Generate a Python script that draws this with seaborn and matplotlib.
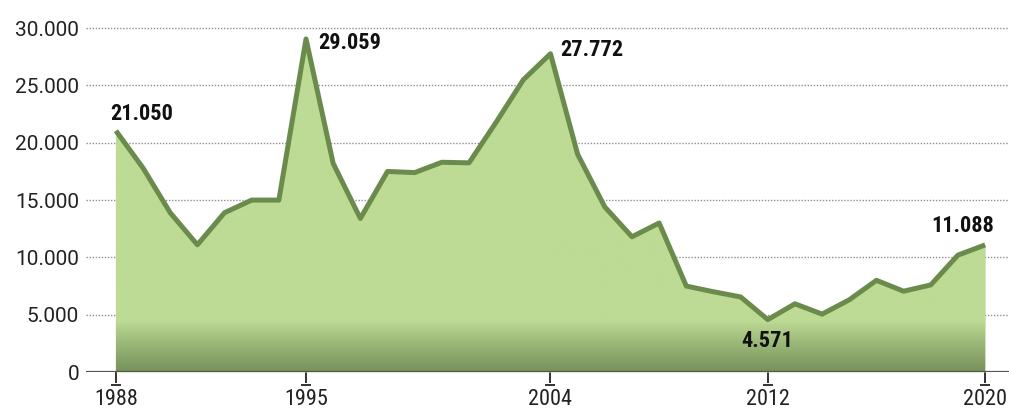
import numpy as np
import pandas as pd
import seaborn as sns
import matplotlib
matplotlib.use("Agg")
import matplotlib.pyplot as plt
import matplotlib.transforms as mtrans
from matplotlib import font_manager

years = list(range(1988, 2021))
values = [21050, 17800, 13900, 11100, 13900, 15000, 15000, 29059, 18200, 13400,
          17500, 17400, 18300, 18250, 21800, 25500, 27772, 19000, 14400, 11800,
          13000, 7500, 7000, 6550, 4571, 5950, 5050, 6300, 8000, 7050, 7600,
          10200, 11088]
xtick_years = [1988, 1995, 2004, 2012, 2020]
ytick_values = [0, 5000, 10000, 15000, 20000, 25000, 30000]
annotated_years = [1988, 1995, 2004, 2012, 2020]

def fmt(v):
    return f"{v:,}".replace(",", ".")

def pick_font(cands):
    for c in cands:
        try:
            font_manager.findfont(font_manager.FontProperties(family=c), fallback_to_default=False)
            return c
        except Exception:
            continue
    return "DejaVu Sans"

sns.set_theme(style="white")
cond = pick_font(["Roboto Condensed", "Liberation Sans Narrow", "DejaVu Sans Condensed", "Roboto"])
reg = pick_font(["Roboto", "DejaVu Sans"])
plt.rcParams['font.family'] = [reg, 'DejaVu Sans']

df = pd.DataFrame({"year": years, "value": values})

fig = plt.figure(figsize=(10.09, 4.12), dpi=100)
ax = fig.add_axes([86/1009, 40/412, 1 - 86/1009, 1 - 40/412])

ymax = 32460
xmin, xmax = 1986.9, 2020.88
ax.set_xlim(xmin, xmax)
ax.set_ylim(0, ymax)

# grid
for v in ytick_values[1:]:
    ax.axhline(v, color="#8f8f8f", lw=1.0, ls=(0, (1, 1.2)), zorder=1)

# fill with gradient at the bottom
poly = ax.fill_between(df["year"], df["value"], 0, color="#bddb94", lw=0, zorder=2)
light = np.array([0xbd, 0xdb, 0x94]) / 255
dark = np.array([0x76, 0x91, 0x5a]) / 255
n = 400
ys = np.linspace(0, ymax, n)
t = np.clip((4400 - ys) / 4400, 0, 1) ** 0.9
cols = light[None, :] * (1 - t[:, None]) + dark[None, :] * t[:, None]
img = ax.imshow(cols[:, None, :], extent=[xmin, xmax, 0, ymax], origin="lower",
                aspect="auto", zorder=3, interpolation="bilinear")
img.set_clip_path(poly.get_paths()[0], transform=ax.transData)

sns.lineplot(data=df, x="year", y="value", ax=ax, color="#6b8b4d", lw=3.6,
             zorder=5, solid_joinstyle="round", solid_capstyle="butt")

# baseline
ax.axhline(0, color="#555555", lw=1.6, zorder=6)

for s in ax.spines.values():
    s.set_visible(False)

ax.set_xticks(xtick_years)
ax.set_xticklabels([str(y) for y in xtick_years], family=[cond, "DejaVu Sans"])
ax.set_yticks(ytick_values)
ax.set_yticklabels([fmt(v) for v in ytick_values])
ax.tick_params(axis="x", bottom=True, length=8, width=1.4, color="#333333",
               direction="out", labelsize=16, pad=4, labelcolor="#222222")
ax.tick_params(axis="y", left=False, length=0, labelsize=15, pad=5,
               labelcolor="#222222")
ax.set_xlabel("")
ax.set_ylabel("")

# small foot bars on ticks
tr = mtrans.blended_transform_factory(ax.transData, ax.transAxes)
ax.plot(xtick_years, [-11.3/332] * len(xtick_years), ls="none", marker="_",
        ms=7, mew=1.4, color="#333333", transform=tr, clip_on=False, zorder=7)

offsets = {1988: (-6, 6, "left", "bottom"),
           1995: (12, -4, "left", "center"),
           2004: (10, 4, "left", "center"),
           2012: (-27, -10, "left", "top"),
           2020: (-54, 8, "left", "bottom")}
for y in annotated_years:
    v = values[years.index(y)]
    dx, dy, ha, va = offsets[y]
    ax.annotate(fmt(v), (y, v), xytext=(dx, dy), textcoords="offset pixels",
                ha=ha, va=va, fontsize=16, fontweight="bold", color="#111111",
                family=[cond, "DejaVu Sans"], zorder=8)

fig.savefig("out.png", dpi=100)
